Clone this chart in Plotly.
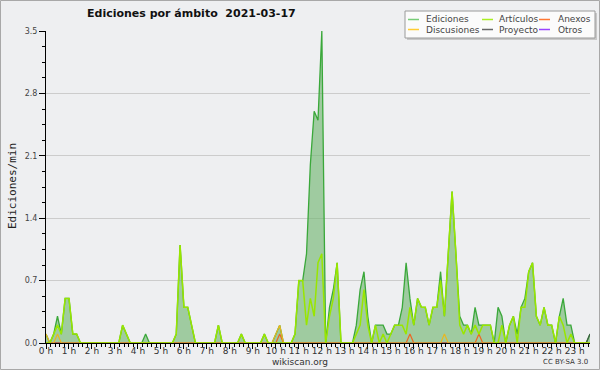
import plotly.graph_objects as go

# ---------------- data (10-minute bins, edits per minute) ----------------
n_bins = 143
hours = [i / 6 for i in range(n_bins)]

ediciones = [
    0.1, 0, 0.1, 0.3, 0.1, 0.5, 0.5, 0.1, 0.1, 0,
    0, 0, 0, 0, 0, 0, 0, 0, 0, 0,
    0.2, 0.1, 0, 0, 0, 0, 0.1, 0, 0, 0,
    0, 0, 0, 0, 0.1, 1.1, 0.4, 0.4, 0.2, 0,
    0, 0, 0, 0, 0, 0.2, 0, 0, 0, 0,
    0, 0.1, 0, 0, 0, 0, 0, 0.1, 0, 0,
    0.1, 0.2, 0, 0, 0, 0.1, 0.7, 0.7, 1.0, 2.0,
    2.6, 2.5, 3.5, 0, 0.4, 0.6, 0.9, 0, 0, 0,
    0, 0.2, 0.6, 0.8, 0.3, 0, 0.2, 0.2, 0.2, 0.1,
    0.1, 0.2, 0.2, 0.4, 0.9, 0.5, 0.2, 0.5, 0.4, 0.4,
    0.2, 0.4, 0.4, 0.8, 0.3, 1.0, 1.7, 1.0, 0.3, 0.2,
    0.2, 0.1, 0.4, 0.2, 0.2, 0.2, 0.2, 0, 0.4, 0.3,
    0, 0.2, 0.3, 0.1, 0.4, 0.5, 0.8, 0.9, 0.3, 0.2,
    0.4, 0.2, 0.2, 0, 0.3, 0.5, 0.2, 0.2, 0, 0,
    0, 0, 0.1,
]

articulos = [
    0, 0, 0.1, 0.2, 0.1, 0.5, 0.5, 0.1, 0.1, 0,
    0, 0, 0, 0, 0, 0, 0, 0, 0, 0,
    0.2, 0.1, 0, 0, 0, 0, 0, 0, 0, 0,
    0, 0, 0, 0, 0.1, 1.1, 0.4, 0.4, 0.2, 0,
    0, 0, 0, 0, 0, 0.2, 0, 0, 0, 0,
    0, 0.1, 0, 0, 0, 0, 0, 0.1, 0, 0,
    0, 0, 0, 0, 0, 0.1, 0.7, 0.7, 0.2, 0.5,
    0.3, 0.9, 1.0, 0, 0.3, 0.5, 0.9, 0, 0, 0,
    0, 0.1, 0.2, 0.6, 0.2, 0, 0.2, 0, 0.1, 0,
    0.1, 0.2, 0.2, 0.2, 0.1, 0.4, 0.2, 0.5, 0.4, 0.4,
    0.2, 0.4, 0.4, 0.7, 0.3, 1.0, 1.7, 1.0, 0.2, 0.1,
    0.2, 0.1, 0.2, 0.1, 0.2, 0.2, 0.2, 0, 0, 0.2,
    0, 0.2, 0.3, 0, 0.4, 0.4, 0.8, 0.9, 0.3, 0.2,
    0.4, 0.2, 0.2, 0, 0.3, 0.2, 0, 0.1, 0, 0,
    0, 0, 0,
]

# sparse series: {bin index: value}
anexos_pts = {61: 0.1, 95: 0.1, 113: 0.1}
discusiones_pts = {0: 0.1, 3: 0.1, 60: 0.1, 61: 0.2, 104: 0.1}
proyecto_pts = {142: 0.1}
otros_pts = {}

anexos = [anexos_pts.get(i, 0) for i in range(n_bins)]
discusiones = [discusiones_pts.get(i, 0) for i in range(n_bins)]
proyecto = [proyecto_pts.get(i, 0) for i in range(n_bins)]
otros = [otros_pts.get(i, 0) for i in range(n_bins)]

hour_ticks = list(range(24))
hour_labels = [f"{h} h" for h in hour_ticks]

y_ticks = [0.0, 0.7, 1.4, 2.1, 2.8, 3.5]

title_text = "Ediciones por ámbito\u00a0\u00a02021-03-17"

# ---------------- layout geometry ----------------
W, H = 600, 370
L, R, T, B = 46, 10, 31, 27
PW, PH = W - L - R, H - T - B


def px(x):
    return (x - L) / PW


def py(y):
    return (H - B - y) / PH


BG = "#eeeff1"
FONT = "DejaVu Sans"

fig = go.Figure()

fig.add_trace(go.Scatter(
    x=hours, y=ediciones, name="Ediciones", mode="lines",
    line=dict(color="#3aa83a", width=1.3),
    fill="tozeroy", fillcolor="rgba(110,180,110,0.62)",
))
series = [
    ("Otros", otros, "#9944ff", 1.0),
    ("Proyecto", proyecto, "#3f5a44", 1.2),
    ("Anexos", anexos, "#ee6622", 1.2),
    ("Discusiones", discusiones, "#e8b820", 1.2),
    ("Artículos", articulos, "#99e600", 1.5),
]
for name, vals, col, w in series:
    fig.add_trace(go.Scatter(
        x=hours, y=vals, name=name, mode="lines",
        line=dict(color=col, width=w),
    ))

shapes = []
annotations = []

# outer frame
shapes.append(dict(type="rect", xref="paper", yref="paper",
                   x0=px(0.5), x1=px(599.5), y0=py(369.5), y1=py(0.5),
                   line=dict(color="#a8a8a8", width=1), layer="below"))

# legend box (shadow + box)
shapes.append(dict(type="rect", xref="paper", yref="paper",
                   x0=px(407), x1=px(597), y0=py(40), y1=py(13),
                   fillcolor="#c8c8c8", line=dict(width=0)))
shapes.append(dict(type="rect", xref="paper", yref="paper",
                   x0=px(405), x1=px(595), y0=py(38), y1=py(11),
                   fillcolor="#fbfbfb", line=dict(color="#9a9a9a", width=1)))

legend_entries = [
    ("Ediciones", "#77cc77", 408, 424, 19.5),
    ("Artículos", "#aaee22", 482, 497, 19.5),
    ("Anexos", "#ff7733", 539, 556, 19.5),
    ("Discusiones", "#ffcc33", 408, 424, 29.5),
    ("Proyecto", "#666666", 482, 497, 29.5),
    ("Otros", "#9944ff", 539, 556, 29.5),
]
for text, col, lx, tx, ly in legend_entries:
    shapes.append(dict(type="line", xref="paper", yref="paper",
                       x0=px(lx), x1=px(lx + 11), y0=py(ly), y1=py(ly),
                       line=dict(color=col, width=1.5)))
    annotations.append(dict(text=text, xref="paper", yref="paper",
                            x=px(tx), y=py(ly), xanchor="left", yanchor="middle",
                            showarrow=False, font=dict(family=FONT, size=9, color="#444444")))

# title
annotations.append(dict(text=title_text, xref="paper", yref="paper",
                        x=px(85), y=py(14), xanchor="left", yanchor="middle",
                        showarrow=False,
                        font=dict(family=FONT, size=11, color="#111111", weight="bold")))
# y axis title
annotations.append(dict(text="Ediciones/min", xref="paper", yref="paper",
                        x=px(12), y=py(186), xanchor="center", yanchor="middle",
                        textangle=-90, showarrow=False,
                        font=dict(family="DejaVu Sans Mono", size=11, color="#222222")))
# footer
annotations.append(dict(text="wikiscan.org", xref="paper", yref="paper",
                        x=px(300), y=py(362), xanchor="center", yanchor="middle",
                        showarrow=False, font=dict(family=FONT, size=9, color="#333333")))
annotations.append(dict(text="CC BY-SA 3.0", xref="paper", yref="paper",
                        x=px(590), y=py(362), xanchor="right", yanchor="middle",
                        showarrow=False, font=dict(family=FONT, size=7, color="#333333")))

fig.update_layout(
    width=W, height=H,
    margin=dict(l=L, r=R, t=T, b=B, pad=0),
    paper_bgcolor=BG, plot_bgcolor=BG,
    showlegend=False,
    shapes=shapes, annotations=annotations,
    font=dict(family=FONT, size=9, color="#333333"),
)
fig.update_xaxes(
    range=[0, hours[-1]], tickmode="array", tickvals=hour_ticks, ticktext=hour_labels,
    ticks="outside", ticklen=5, tickcolor="black", tickwidth=1,
    showline=True, linecolor="black", linewidth=1,
    showgrid=False, zeroline=False,
    tickfont=dict(family=FONT, size=9, color="#333333"),
    minor=dict(dtick=0.2, ticklen=3, tickcolor="black", ticks="outside", showgrid=False),
    ticklabelstandoff=-6,
)
fig.update_yaxes(
    range=[0, 3.5], tickmode="array", tickvals=y_ticks, tickformat=".1f",
    ticks="outside", ticklen=6, tickcolor="black", tickwidth=1,
    showline=True, linecolor="black", linewidth=1,
    showgrid=True, gridcolor="#cccccc", gridwidth=1, zeroline=False,
    tickfont=dict(family=FONT, size=8, color="#444444"),
    minor=dict(dtick=0.175, ticklen=3, tickcolor="black", ticks="outside", showgrid=False),
)

fig.write_html(
    "out.html",
    config={"displayModeBar": False, "staticPlot": True},
    post_script="document.body.style.margin='0';document.body.style.overflow='hidden';",
)
